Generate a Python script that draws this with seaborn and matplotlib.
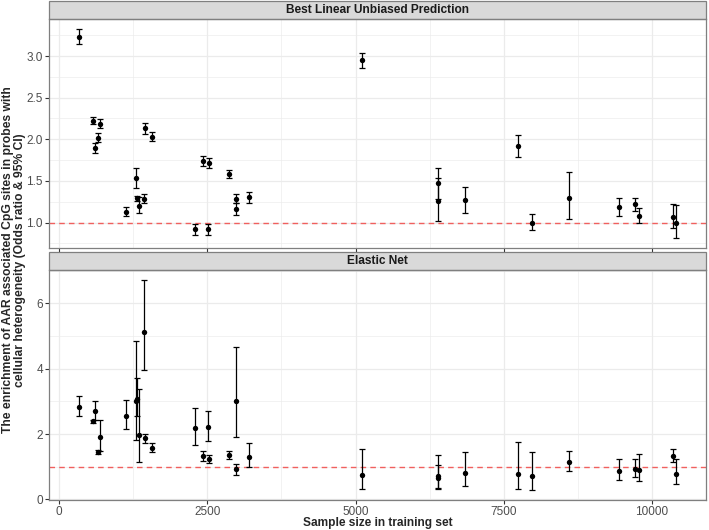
import numpy as np
import pandas as pd
import seaborn as sns
import matplotlib
matplotlib.use("Agg")
import matplotlib.pyplot as plt
from matplotlib.patches import Rectangle
from matplotlib.ticker import MultipleLocator

# Sample sizes (shared by both panels)
sample_size = [339, 577, 599, 661, 695, 1131, 1300, 1317, 1345, 1430, 1442, 1566,
               2290, 2431, 2510, 2533, 2866, 2985, 2985, 3205, 5105, 6394, 6399,
               6841, 7740, 7977, 8599, 9442, 9713, 9781, 10357, 10408]

# Best Linear Unbiased Prediction: odds ratio and 95% CI
blup_or = [3.23, 2.22, 1.895, 2.01, 2.18, 1.13, 1.53, 1.29, 1.20, 1.28, 2.13, 2.03,
           0.92, 1.74, 0.92, 1.715, 1.58, 1.28, 1.16, 1.31, 2.95, 1.26, 1.47,
           1.27, 1.92, 1.00, 1.30, 1.19, 1.22, 1.08, 1.065, 1.00]
blup_lo = [3.15, 2.18, 1.83, 1.97, 2.13, 1.08, 1.41, 1.26, 1.11, 1.23, 2.06, 1.98,
           0.85, 1.68, 0.85, 1.65, 1.53, 1.23, 1.09, 1.24, 2.86, 1.02, 1.28,
           1.12, 1.79, 0.91, 1.04, 1.08, 1.14, 1.00, 0.93, 0.82]
blup_hi = [3.32, 2.27, 1.95, 2.07, 2.24, 1.19, 1.65, 1.32, 1.31, 1.34, 2.20, 2.09,
           0.98, 1.80, 0.98, 1.77, 1.63, 1.34, 1.23, 1.37, 3.04, 1.54, 1.66,
           1.43, 2.05, 1.10, 1.61, 1.30, 1.30, 1.17, 1.22, 1.21]

# Elastic Net: odds ratio and 95% CI
en_or = [2.83, 2.40, 2.70, 1.45, 1.90, 2.56, 3.00, 3.07, 1.98, 5.13, 1.87, 1.57,
         2.17, 1.33, 2.20, 1.23, 1.35, 3.00, 0.92, 1.31, 0.75, 0.66, 0.71,
         0.81, 0.79, 0.71, 1.13, 0.88, 0.92, 0.89, 1.32, 0.79]
en_lo = [2.54, 2.34, 2.42, 1.38, 1.47, 2.14, 1.81, 2.55, 1.13, 3.95, 1.73, 1.45,
         1.66, 1.18, 1.78, 1.11, 1.24, 1.91, 0.76, 0.99, 0.32, 0.35, 0.33,
         0.42, 0.31, 0.30, 0.86, 0.60, 0.68, 0.55, 1.13, 0.48]
en_hi = [3.17, 2.44, 3.00, 1.52, 2.42, 3.03, 4.86, 3.72, 3.37, 6.70, 2.01, 1.73,
         2.81, 1.47, 2.69, 1.36, 1.49, 4.67, 1.09, 1.71, 1.54, 1.06, 1.35,
         1.44, 1.74, 1.46, 1.47, 1.25, 1.22, 1.38, 1.53, 1.25]

methods = ["Best Linear Unbiased Prediction", "Elastic Net"]

df = pd.concat([
    pd.DataFrame({"n": sample_size, "or": blup_or, "lo": blup_lo, "hi": blup_hi,
                  "method": methods[0]}),
    pd.DataFrame({"n": sample_size, "or": en_or, "lo": en_lo, "hi": en_hi,
                  "method": methods[1]}),
])

sns.set_style("white")
plt.rcParams["font.family"] = ["Liberation Sans", "DejaVu Sans"]

fig = plt.figure(figsize=(7.09, 5.30), dpi=100)
left, right = 0.0695, 0.9958
ax_top = fig.add_axes([left, 0.5321, right - left, 0.9642 - 0.5321])
ax_bot = fig.add_axes([left, 0.0566, right - left, 0.4906 - 0.0566])

xr = max(sample_size) - min(sample_size)
xlim = (min(sample_size) - 0.05 * xr, max(sample_size) + 0.05 * xr)

grid_col = "#EBEBEB"
strip_h_px = 18

for ax, m, ymaj, ymin in [(ax_top, methods[0], 0.5, 0.25), (ax_bot, methods[1], 2, 1)]:
    d = df[df["method"] == m]
    yr = d["hi"].max() - d["lo"].min()
    ax.set_ylim(d["lo"].min() - 0.05 * yr, d["hi"].max() + 0.05 * yr)
    ax.set_xlim(*xlim)

    ax.xaxis.set_major_locator(MultipleLocator(2500))
    ax.xaxis.set_minor_locator(MultipleLocator(1250))
    ax.yaxis.set_major_locator(MultipleLocator(ymaj))
    ax.yaxis.set_minor_locator(MultipleLocator(ymin))
    ax.grid(which="major", color=grid_col, linewidth=0.9)
    ax.grid(which="minor", color=grid_col, linewidth=0.45)
    ax.set_axisbelow(True)

    # reference line at OR = 1
    ax.axhline(1, color="#F0605E", linestyle=(0, (4, 3)), linewidth=1.0, zorder=1)

    ax.errorbar(d["n"], d["or"], yerr=[d["or"] - d["lo"], d["hi"] - d["or"]],
                fmt="none", ecolor="black", elinewidth=0.9, capsize=2.2,
                capthick=0.9, zorder=2)
    sns.scatterplot(data=d, x="n", y="or", ax=ax, color="black", s=15,
                    edgecolor="black", linewidth=0, zorder=3)

    for s in ax.spines.values():
        s.set_color("#7F7F7F")
        s.set_linewidth(0.9)
    ax.tick_params(axis="both", which="major", length=3, width=0.8, color="#333333",
                   labelsize=8.5, labelcolor="#4D4D4D", left=True, bottom=True, pad=1.5)
    ax.tick_params(which="minor", length=0)
    ax.set_xlabel("")
    ax.set_ylabel("")

    # facet strip
    h = strip_h_px / (ax.get_position().height * fig.get_figheight() * fig.dpi)
    ax.add_patch(Rectangle((0, 1), 1, h, transform=ax.transAxes, clip_on=False,
                           facecolor="#D9D9D9", edgecolor="#7F7F7F", linewidth=0.9))
    ax.text(0.5, 1 + h / 2, m, transform=ax.transAxes, ha="center", va="center",
            fontsize=8.6, fontweight="bold", color="#1A1A1A")

ax_top.tick_params(labelbottom=False)
ax_top.set_yticks([1.0, 1.5, 2.0, 2.5, 3.0])
ax_top.set_yticklabels(["1.0", "1.5", "2.0", "2.5", "3.0"])

fig.text(0.5 * (left + right), 0.0125, "Sample size in training set", ha="center",
         va="center", fontsize=8.6, fontweight="bold")
fig.text(0.02, 0.51, "The enrichment of AAR associated CpG sites in probes with\n"
         "cellular heterogeneity (Odds ratio & 95% CI)", rotation=90, ha="center",
         va="center", fontsize=8.7, fontweight="bold", linespacing=1.05)

fig.savefig("out.png", dpi=100)
